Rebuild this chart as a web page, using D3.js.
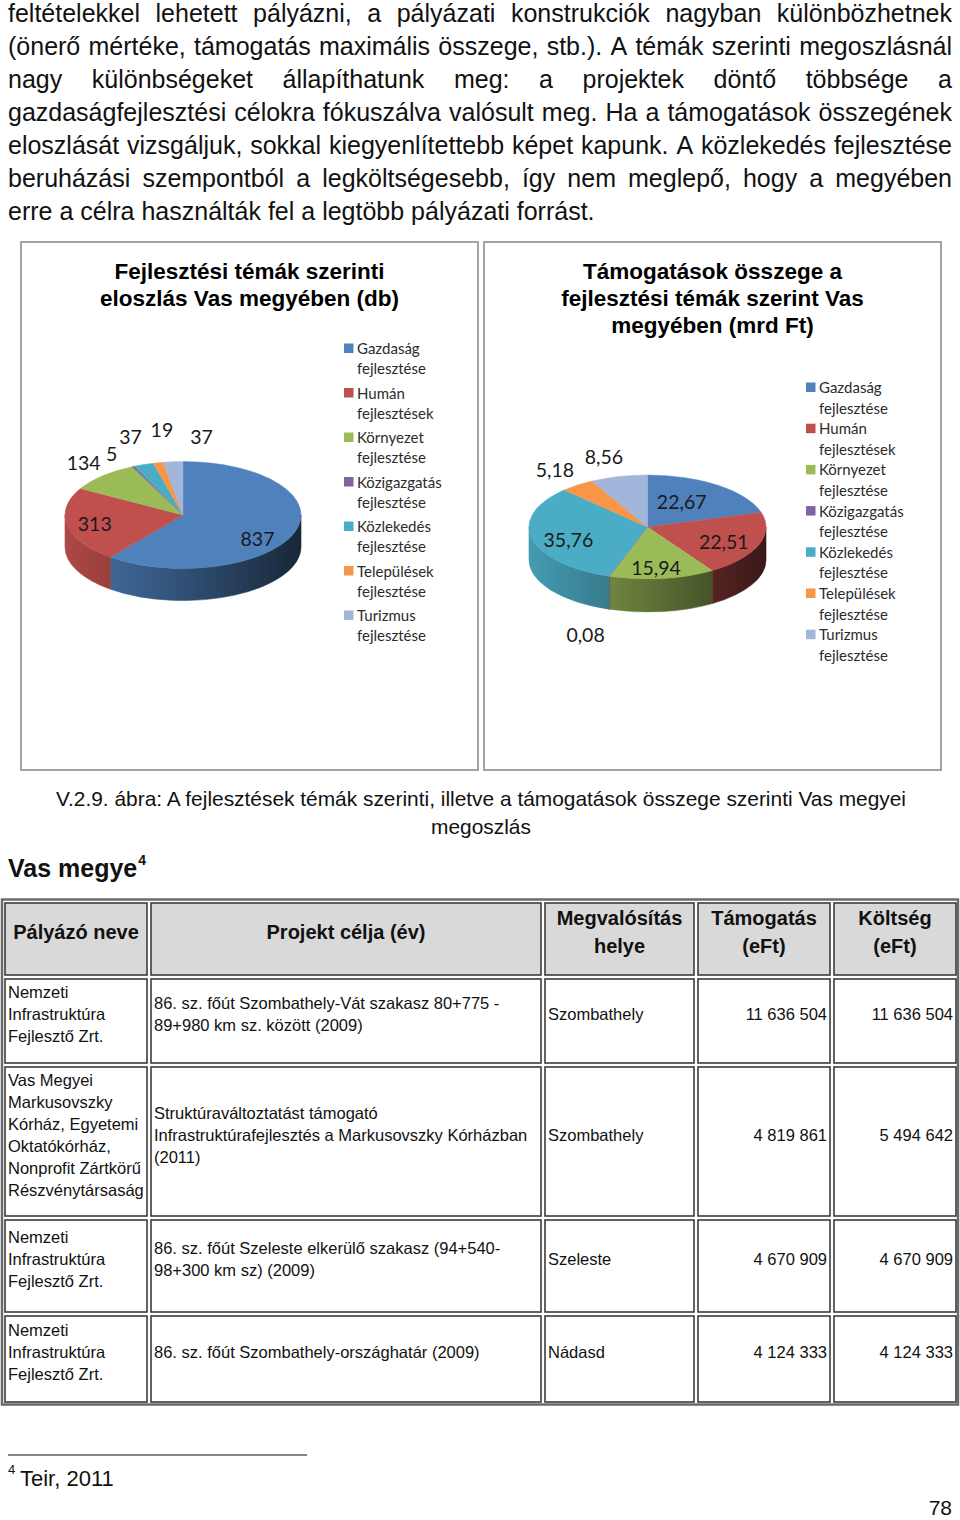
<!DOCTYPE html>
<html><head><meta charset="utf-8">
<script src="https://cdn.jsdelivr.net/npm/d3@7"></script>
<style>body{margin:0;background:#fff} svg{display:block}</style>
</head><body>
<svg id="page" width="960" height="1520"></svg>
<script>
// ---------------- DATA ----------------
const paragraphLines = [
  "feltételekkel lehetett pályázni, a pályázati konstrukciók nagyban különbözhetnek",
  "(önerő mértéke, támogatás maximális összege, stb.). A témák szerinti megoszlásnál",
  "nagy különbségeket állapíthatunk meg: a projektek döntő többsége a",
  "gazdaságfejlesztési célokra fókuszálva valósult meg. Ha a támogatások összegének",
  "eloszlását vizsgáljuk, sokkal kiegyenlítettebb képet kapunk. A közlekedés fejlesztése",
  "beruházási szempontból a legköltségesebb, így nem meglepő, hogy a megyében",
  "erre a célra használták fel a legtöbb pályázati forrást."
];
const categories = ["Gazdaság fejlesztése","Humán fejlesztések","Környezet fejlesztése","Közigazgatás fejlesztése","Közlekedés fejlesztése","Települések fejlesztése","Turizmus fejlesztése"];
const projectCounts = [837, 313, 134, 5, 37, 19, 37];
const supportTotals = [22.67, 22.51, 15.94, 0.08, 35.76, 5.18, 8.56];
const chartTitles = [
  ["Fejlesztési témák szerinti","eloszlás Vas megyében (db)"],
  ["Támogatások összege a","fejlesztési témák szerint Vas","megyében (mrd Ft)"]
];
const captionLines = ["V.2.9. ábra: A fejlesztések témák szerinti, illetve a támogatások összege szerinti Vas megyei","megoszlás"];
const sectionTitle = "Vas megye";
const footnoteMark = "4";
const footnoteText = "Teir, 2011";
const pageNumber = "78";
const tableHeaders = [["Pályázó neve"],["Projekt célja (év)"],["Megvalósítás","helye"],["Támogatás","(eFt)"],["Költség","(eFt)"]];
const applicants = [
  ["Nemzeti","Infrastruktúra","Fejlesztő Zrt."],
  ["Vas Megyei","Markusovszky","Kórház, Egyetemi","Oktatókórház,","Nonprofit Zártkörű","Részvénytársaság"],
  ["Nemzeti","Infrastruktúra","Fejlesztő Zrt."],
  ["Nemzeti","Infrastruktúra","Fejlesztő Zrt."]
];
const projectGoals = [
  ["86. sz. főút Szombathely-Vát szakasz 80+775 -","89+980 km sz. között (2009)"],
  ["Struktúraváltoztatást támogató","Infrastruktúrafejlesztés a Markusovszky Kórházban","(2011)"],
  ["86. sz. főút Szeleste elkerülő szakasz (94+540-","98+300 km sz) (2009)"],
  ["86. sz. főút Szombathely-országhatár (2009)"]
];
const places = ["Szombathely","Szombathely","Szeleste","Nádasd"];
const supportEFt = [11636504, 4819861, 4670909, 4124333];
const costEFt = [11636504, 5494642, 4670909, 4124333];

// ---------------- SETUP ----------------
const svg = d3.select("#page");
const defs = svg.append("defs");
svg.append("rect").attr("width",960).attr("height",1520).attr("fill","#fff");
const ARIAL = "'Liberation Sans', Arial, Helvetica, sans-serif";
const CAL = "Lato, 'Open Sans', sans-serif";
const hu = d3.formatLocale({decimal:",", thousands:"\u00a0", grouping:[3], currency:["",""]});
const fmtThousands = hu.format(",d");
const fmtInt = hu.format("d");
const fmt2 = hu.format(".2f");

// ---------------- PARAGRAPH (justified) ----------------
const pLeft = 8, pRight = 952, pBase = 22, pLead = 33, pSize = 25;
const meas = svg.append("text").attr("font-family", ARIAL).attr("font-size", pSize).attr("x",-1000).attr("y",-1000);
function wordW(w){ meas.text(w); return meas.node().getComputedTextLength(); }
paragraphLines.forEach((line, li) => {
  const words = line.split(" ");
  const widths = words.map(wordW);
  const total = d3.sum(widths);
  const justify = li < paragraphLines.length - 1;
  const gap = justify ? (pRight - pLeft - total) / (words.length - 1) : wordW("a b") - wordW("ab");
  let x = pLeft;
  const t = svg.append("text").attr("font-family", ARIAL).attr("font-size", pSize).attr("fill","#111").attr("y", pBase + li*pLead);
  words.forEach((w,i)=>{ t.append("tspan").attr("x", x).text(w); x += widths[i] + gap; });
});
meas.remove();

// ---------------- PIE CHARTS ----------------
const color = d3.scaleOrdinal().domain(categories)
  .range(["#4F81BD","#C0504D","#9BBB59","#8064A2","#4BACC6","#F79646","#A2B5DA"]);

function shade(c, f){ const r = d3.rgb(c); return d3.rgb(r.r*f, r.g*f, r.b*f).formatHex(); }

function drawPanel(o){
  const g = svg.append("g");
  g.append("rect").attr("x", o.box[0]).attr("y", o.box[1]).attr("width", o.box[2]).attr("height", o.box[3])
    .attr("fill","#fff").attr("stroke","#a3a3a3").attr("stroke-width",2);
  const cxT = o.box[0] + o.box[2]/2;
  o.title.forEach((l,i)=> g.append("text").attr("x", cxT).attr("y", o.titleY + i*27)
    .attr("text-anchor","middle").attr("font-family", ARIAL).attr("font-weight","bold")
    .attr("font-size", 22.5).attr("fill","#000").text(l));

  const arcs = d3.pie().sort(null).value(d=>d)(o.values);
  const P = (a, f=1, dy=0) => [o.cx + f*o.rx*Math.sin(a), o.cy - f*o.ry*Math.cos(a) + dy];
  arcs.forEach((a,i)=>{
    const base = color(categories[i]);
    const gr = defs.append("linearGradient").attr("id", `${o.id}-w${i}`)
      .attr("gradientUnits","userSpaceOnUse")
      .attr("x1", o.cx - o.rx).attr("x2", o.cx + o.rx).attr("y1",0).attr("y2",0);
    gr.append("stop").attr("offset",0).attr("stop-color", shade(base, 0.9));
    gr.append("stop").attr("offset",0.5).attr("stop-color", shade(base, 0.62));
    gr.append("stop").attr("offset",1).attr("stop-color", shade(base, 0.3));
  });
  const f0 = Math.PI/2, f1 = 3*Math.PI/2;
  arcs.forEach((a,i)=>{
    const s = Math.max(a.startAngle, f0), e = Math.min(a.endAngle, f1);
    if (e <= s) return;
    const [x0,y0] = P(s), [x1,y1] = P(e);
    const d = `M${x0},${y0} A${o.rx},${o.ry} 0 0 1 ${x1},${y1} L${x1},${y1+o.depth} A${o.rx},${o.ry} 0 0 0 ${x0},${y0+o.depth} Z`;
    g.append("path").attr("d", d).attr("fill", `url(#${o.id}-w${i})`)
      .attr("stroke", `url(#${o.id}-w${i})`).attr("stroke-width",0.6);
  });
  const arcGen = d3.arc().innerRadius(0).outerRadius(o.rx);
  g.append("g").attr("transform", `translate(${o.cx},${o.cy}) scale(1,${o.ry/o.rx})`)
    .selectAll("path").data(arcs).join("path")
    .attr("d", arcGen)
    .attr("fill", (d,i)=> color(categories[i]))
    .attr("stroke", (d,i)=> color(categories[i])).attr("stroke-width",0.6);
  arcs.forEach((a,i)=>{
    const mid = (a.startAngle + a.endAngle)/2;
    const [x,y] = P(mid, 0.65);
    g.append("text").attr("x", x + o.nudge[i][0]).attr("y", y + o.nudge[i][1])
      .attr("text-anchor","middle").attr("dominant-baseline","central")
      .attr("font-family", CAL).attr("font-size", 19.5).attr("fill","#1a1a1a")
      .text(o.fmt(a.data));
  });
  categories.forEach((c,i)=>{
    const yy = o.leg.y + i*o.leg.step;
    const parts = [c.slice(0, c.indexOf(" ")), c.slice(c.indexOf(" ")+1)];
    g.append("rect").attr("x", o.leg.sx).attr("y", yy - 4.5).attr("width",9.5).attr("height",9.5)
      .attr("fill", color(c));
    parts.forEach((p,j)=> g.append("text").attr("x", o.leg.tx).attr("y", yy + j*o.leg.line)
      .attr("dominant-baseline","central").attr("font-family", CAL).attr("font-size", 15)
      .attr("fill","#2b2b2b").text(p));
  });
}

drawPanel({id:"p1", box:[21,242,457,528], title: chartTitles[0], titleY: 279,
  values: projectCounts, fmt: fmtInt,
  cx:183, cy:515, rx:118, ry:53.5, depth:32,
  nudge:[[2,12],[-13,2],[-47,-27],[-39,-30],[-27,-46],[-5,-51],[25,-44]],
  leg:{sx:344, tx:357, y:348, step:44.5, line:20}});

drawPanel({id:"p2", box:[484,242,457,528], title: chartTitles[1], titleY: 279,
  values: supportTotals, fmt: fmt2,
  cx:647.5, cy:527, rx:118.5, ry:52, depth:33,
  nudge:[[-12,2],[4,3],[-1,7],[-37,76],[-4,5],[-47,-30],[-25,-38]],
  leg:{sx:806, tx:819, y:387, step:41.2, line:20.5}});

// ---------------- CAPTION & HEADINGS ----------------
captionLines.forEach((l,i)=> svg.append("text").attr("x",481).attr("y", 806 + i*28)
  .attr("text-anchor","middle").attr("font-family", ARIAL).attr("font-size",20.9).attr("fill","#111").text(l));
const vm = svg.append("text").attr("x",8).attr("y",877).attr("font-family", ARIAL)
  .attr("font-weight","bold").attr("font-size",25).attr("fill","#111").text(sectionTitle);
svg.append("text").attr("x", 8 + vm.node().getComputedTextLength() + 1).attr("y",865)
  .attr("font-family", ARIAL).attr("font-weight","bold").attr("font-size",14).attr("fill","#111").text(footnoteMark);

// ---------------- TABLE ----------------
const cols = [[5,147],[151,541],[545,694],[698,830],[834,956]];
const rows = [[903,975],[979,1063],[1067,1216],[1220,1312],[1316,1402]];
const tg = svg.append("g");
tg.append("rect").attr("x",2).attr("y",899.5).attr("width",956).attr("height",505)
  .attr("fill","none").attr("stroke","#6a6a6a").attr("stroke-width",2.5);
rows.forEach((r,ri)=> cols.forEach((c,ci)=>{
  tg.append("rect").attr("x", c[0]).attr("y", r[0]).attr("width", c[1]-c[0]).attr("height", r[1]-r[0])
    .attr("fill", ri===0 ? "#d9d9d9" : "#fff").attr("stroke","#3c3c3c").attr("stroke-width",1.6);
}));
function cellText(lines, ri, ci, opts){
  const r = rows[ri], c = cols[ci];
  const mid = (r[0]+r[1])/2 - 7;
  const y0 = mid - (lines.length-1)*opts.lead/2;
  let x, anchor;
  if (opts.align === "center"){ x = (c[0]+c[1])/2; anchor = "middle"; }
  else if (opts.align === "right"){ x = c[1]-3; anchor = "end"; }
  else { x = c[0]+3; anchor = "start"; }
  lines.forEach((l,i)=> tg.append("text").attr("x", x).attr("y", y0 + i*opts.lead)
    .attr("dominant-baseline","central").attr("text-anchor", anchor)
    .attr("font-family", ARIAL).attr("font-size", opts.size).attr("font-weight", opts.bold ? "bold" : "normal")
    .attr("fill","#111").text(l));
}
tableHeaders.forEach((h,ci)=> cellText(h, 0, ci, {align:"center", lead:28, size:20, bold:true}));
const body = {lead:22, size:16.5};
applicants.forEach((a,i)=>{
  cellText(a, i+1, 0, {...body, align:"left"});
  cellText(projectGoals[i], i+1, 1, {...body, align:"left"});
  cellText([places[i]], i+1, 2, {...body, align:"left"});
  cellText([fmtThousands(supportEFt[i])], i+1, 3, {...body, align:"right"});
  cellText([fmtThousands(costEFt[i])], i+1, 4, {...body, align:"right"});
});

// ---------------- FOOTNOTE ----------------
svg.append("line").attr("x1",8).attr("x2",307).attr("y1",1455).attr("y2",1455).attr("stroke","#111").attr("stroke-width",1.2);
svg.append("text").attr("x",8).attr("y",1474).attr("font-family", ARIAL).attr("font-size",13).attr("fill","#111").text(footnoteMark);
svg.append("text").attr("x",20).attr("y",1486).attr("font-family", ARIAL).attr("font-size",22).attr("fill","#111").text(footnoteText);
svg.append("text").attr("x",952).attr("y",1515).attr("text-anchor","end").attr("font-family", ARIAL).attr("font-size",21).attr("fill","#111").text(pageNumber);
</script>
</body></html>
